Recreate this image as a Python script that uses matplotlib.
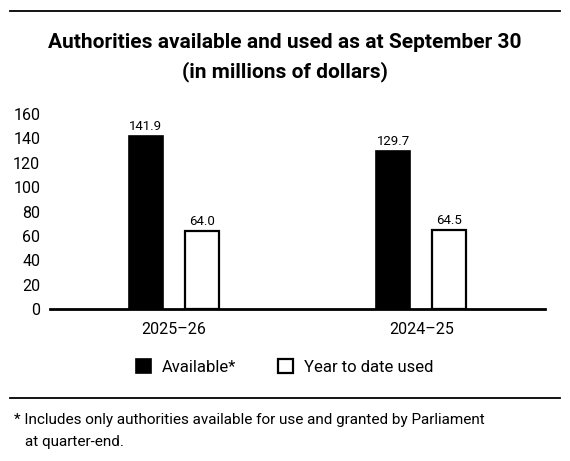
import matplotlib.pyplot as plt
from matplotlib.lines import Line2D
import numpy as np

# Chart data
years = ["2025\u201326", "2024\u201325"]
available = [141.9, 129.7]
used = [64.0, 64.5]
value_labels_available = ["141.9", "129.7"]
value_labels_used = ["64.0", "64.5"]
y_ticks = [0, 20, 40, 60, 80, 100, 120, 140, 160]

plt.rcParams["font.family"] = ["Roboto", "DejaVu Sans"]

fig = plt.figure(figsize=(5.7, 4.61), dpi=100)
ax = fig.add_axes([50 / 570, 1 - 309 / 461, 495 / 570, 195 / 461])

x = np.arange(len(years))
width = 0.137
offset = 0.113

bars_a = ax.bar(x - offset, available, width, color="black", edgecolor="black",
                linewidth=1.2, label="Available*")
bars_u = ax.bar(x + offset, used, width, color="white", edgecolor="black",
                linewidth=1.6, label="Year to date used")

for b, lab in zip(bars_a, value_labels_available):
    ax.text(b.get_x() + b.get_width() / 2, b.get_height() + 2.5, lab,
            ha="center", va="bottom", fontsize=9.5)
for b, lab in zip(bars_u, value_labels_used):
    ax.text(b.get_x() + b.get_width() / 2, b.get_height() + 2.5, lab,
            ha="center", va="bottom", fontsize=9.5)

ax.set_xlim(-0.5, 1.5)
ax.set_ylim(0, 160)
ax.set_yticks(y_ticks)
ax.set_xticks(x)
ax.set_xticklabels(years, fontsize=11.5)
ax.tick_params(axis="y", length=0, pad=7, labelsize=11.5)
ax.tick_params(axis="x", length=0, pad=9)

for side in ["top", "right", "left"]:
    ax.spines[side].set_visible(False)
ax.spines["bottom"].set_linewidth(2)

fig.legend(handles=[bars_a, bars_u], loc="center", bbox_to_anchor=(0.5, 1 - 367 / 461),
           ncol=2, frameon=False, fontsize=12, handlelength=0.9, handleheight=0.9,
           handletextpad=0.66, columnspacing=2.5)

fig.text(0.5, 1 - 43 / 461, "Authorities available and used as at September 30",
         ha="center", va="center", fontsize=15, fontweight="bold")
fig.text(0.5, 1 - 72 / 461, "(in millions of dollars)",
         ha="center", va="center", fontsize=15, fontweight="bold")

# horizontal rules above and below the chart
fig.add_artist(Line2D([10 / 570, 560 / 570], [1 - 11 / 461, 1 - 11 / 461],
                      color="black", linewidth=1.3))
fig.add_artist(Line2D([10 / 570, 560 / 570], [1 - 398 / 461, 1 - 398 / 461],
                      color="black", linewidth=1.3))

fig.text(14 / 570, 1 - 420 / 461,
         "* Includes only authorities available for use and granted by Parliament",
         ha="left", va="center", fontsize=11)
fig.text(25 / 570, 1 - 442 / 461, "at quarter-end.",
         ha="left", va="center", fontsize=11)

fig.savefig("out.png", dpi=100)
